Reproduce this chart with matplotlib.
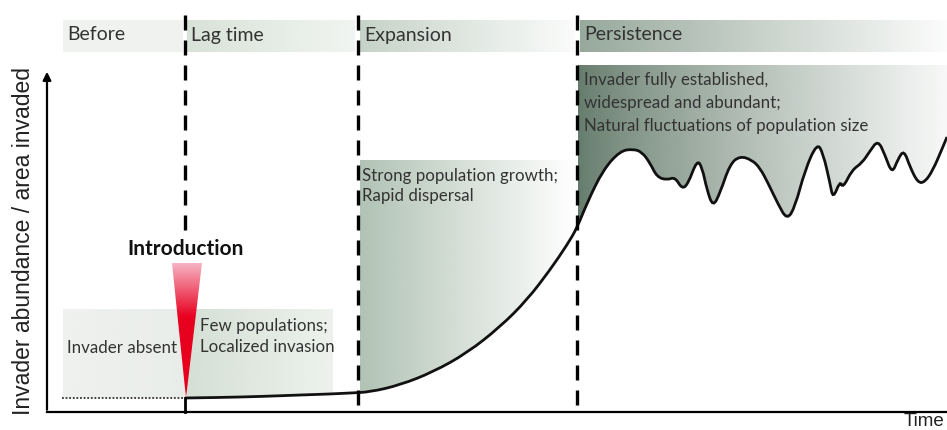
import numpy as np
import matplotlib.pyplot as plt
from matplotlib.colors import to_rgb
from matplotlib.patches import Polygon, PathPatch
from matplotlib.path import Path

plt.rcParams['font.family'] = ['Lato', 'DejaVu Sans']

# phases of an invasion (time axis in px-like units, abundance upward)
phase_names = ['Before', 'Lag time', 'Expansion', 'Persistence']
phase_start = [63, 187, 360, 580]
phase_end = [183, 355, 575, 947]
boundaries = [185, 358, 577]

# phase descriptions
before_text = ['Invader absent']
lag_text = ['Few populations;', 'Localized invasion']
expansion_text = ['Strong population growth;', 'Rapid dispersal']
persistence_text = ['Invader fully established,', 'widespread and abundant;',
                    'Natural fluctuations of population size']

# abundance curve
absent_t = [62, 185]
absent_y = [32, 32]
curve_t = [185, 220, 260, 300, 330, 350, 370, 400, 433, 467, 500, 527, 550, 567, 577,
           587, 603, 620, 633, 642, 650, 657, 667, 675, 682, 688, 697, 702, 707, 713,
           720, 730, 740, 752, 760, 768, 778, 787, 795, 805, 817, 823, 830, 833, 840,
           843, 852, 862, 870, 878, 885, 892, 898, 904, 910, 918, 925, 933, 942, 947]
curve_y = [32, 32.5, 33.5, 35, 36, 37, 38, 45, 58, 77, 103, 130, 160, 185, 202,
           227, 260, 279, 281, 278, 267, 253, 250, 253, 241, 246, 270, 263, 240, 223,
           237, 266, 274, 270, 262, 247, 226, 210, 223, 260, 287, 277, 247, 231, 249,
           242, 260, 267, 279, 290, 275, 256, 271, 280, 263, 247, 248, 260, 281, 293]

curve_t = np.array(curve_t, dtype=float)
curve_y = np.array(curve_y, dtype=float)

fig = plt.figure(figsize=(9.47, 4.30), dpi=100)
ax = fig.add_axes([0, 0, 1, 1])
ax.axis('off')

# smooth path through the read points (quadratic segments between midpoints)
pts = np.column_stack([curve_t, curve_y])
verts = [pts[0]]
codes = [Path.MOVETO]
for i in range(1, len(pts) - 1):
    verts += [pts[i], (pts[i] + pts[i + 1]) / 2]
    codes += [Path.CURVE3, Path.CURVE3]
verts.append(pts[-1])
codes.append(Path.LINETO)
curve_path = Path(verts, codes)

# region above the curve, used to clip the shaded fills
clip_path = Path(verts + [(curve_t[-1], 430), (curve_t[0], 430), (0, 0)],
                 codes + [Path.LINETO, Path.LINETO, Path.CLOSEPOLY])
clip_patch = PathPatch(clip_path, fc='none', ec='none', transform=ax.transData)
ax.add_patch(clip_patch)


def hgrad(x0, x1, y0, y1, color, a0, a1, power=1.0, clip=None, z=1):
    t = np.linspace(0, 1, 256) ** power
    img = np.zeros((1, 256, 4))
    img[..., :3] = to_rgb(color)
    img[..., 3] = a0 + (a1 - a0) * t
    im = ax.imshow(img, extent=(x0, x1, y0, y1), aspect='auto', origin='lower',
                   interpolation='bilinear', zorder=z)
    if clip is not None:
        im.set_clip_path(clip)
    return im


# header bands
band_col = ['#dfe4df', '#b9cbb9', '#9fb5a3', '#7d9383']
band_a = [(0.45, 0.45), (0.55, 0.2), (0.6, 0.05), (0.8, 0.03)]
for s, e, c, a, name in zip(phase_start, phase_end, band_col, band_a, phase_names):
    hgrad(s, e, 378, 410, c, a[0], a[1])
    ax.text(s + 4, 395, name, fontsize=14, color='#333333', va='center', ha='left', zorder=5)

# region fills
hgrad(63, 185, 32, 121, '#e2e7e2', 0.55, 0.75)
hgrad(187, 333, 25, 121, '#c3d3c3', 0.7, 0.3, clip=clip_patch)
hgrad(360, 576, 25, 270, '#a3b8a7', 0.85, 0.0, clip=clip_patch)
hgrad(578, 947, 25, 365, '#5c7463', 0.95, 0.05, power=0.8, clip=clip_patch)

# phase texts
ax.text(67, 82, before_text[0], fontsize=12.2, color='#333333', va='center', zorder=5)
for i, line in enumerate(lag_text):
    ax.text(200, 104 - 21 * i, line, fontsize=12.2, color='#333333', va='center', zorder=5)
for i, line in enumerate(expansion_text):
    ax.text(362, 254 - 20 * i, line, fontsize=12.2, color='#333333', va='center', zorder=5)
for i, line in enumerate(persistence_text):
    ax.text(584, 350 - 23 * i, line, fontsize=12.2, color='#333333', va='center', zorder=5)

# curve
ax.plot(absent_t, absent_y, color='#333333', lw=1.3, ls=(0, (1, 1)), zorder=4)
ax.add_patch(PathPatch(curve_path, fc='none', ec='#111111', lw=2.0, zorder=4))

# phase boundaries
for i, b in enumerate(boundaries):
    y_low = 198 if i == 0 else 18
    ax.plot([b, b], [415, y_low], color='black', lw=2.4, dashes=(4.5, 3.0), zorder=6)
ax.plot([boundaries[0], boundaries[0]], [18, 32], color='black', lw=2, zorder=6)

# introduction wedge
wedge = Polygon([(172, 167), (202, 167), (186, 32)], closed=True, fc='none', ec='none',
                transform=ax.transData)
ax.add_patch(wedge)
tt = np.linspace(0, 1, 256)
pink = np.array(to_rgb('#f6b3c3'))
red = np.array(to_rgb('#e8001f'))
mix = np.clip(tt / 0.4, 0, 1)[:, None]
wimg = np.ones((256, 1, 4))
wimg[:, 0, :3] = pink + (red - pink) * mix
im = ax.imshow(wimg, extent=(172, 202, 32, 167), aspect='auto', origin='upper', zorder=5)
im.set_clip_path(wedge)
ax.text(186, 181, 'Introduction', fontsize=15, fontweight='bold', color='#111111',
        ha='center', va='center', zorder=6)

# axes
ax.plot([47, 947], [18, 18], color='black', lw=1.6, zorder=6)
ax.annotate('', xy=(47, 361), xytext=(47, 17.5),
            arrowprops=dict(arrowstyle='-|>', lw=1.6, color='black', mutation_scale=12))
ax.text(24, 189, 'Invader abundance / area invaded', rotation=90, fontsize=16.5,
        family=['Liberation Sans', 'DejaVu Sans'], color='#222222', ha='center', va='center')
ax.text(904, 0, 'Time', fontsize=13.5, family=['Liberation Sans', 'DejaVu Sans'],
        color='#222222', ha='left', va='bottom')

ax.set_xlim(0, 947)
ax.set_ylim(0, 430)
fig.savefig('out.png', dpi=100)
